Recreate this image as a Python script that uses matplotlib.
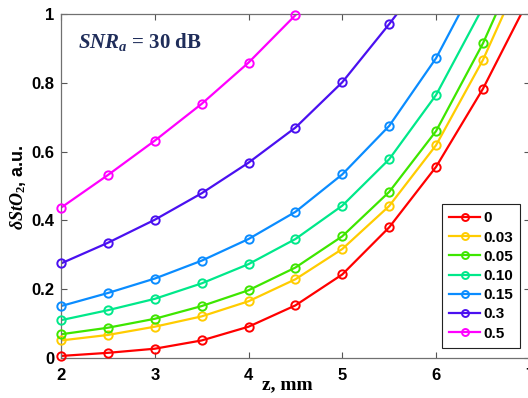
import matplotlib
matplotlib.use('Agg')
import matplotlib.pyplot as plt
from matplotlib.lines import Line2D

# depth, mm
z = [2, 2.5, 3, 3.5, 4, 4.5, 5, 5.5, 6, 6.5, 7]

# dStO2 for each noise level (last points run past the top of the axes)
d_0 = [0.006, 0.015, 0.027, 0.051, 0.091, 0.153, 0.243, 0.380, 0.556, 0.783, 1.05]
d_003 = [0.051, 0.067, 0.091, 0.121, 0.165, 0.229, 0.317, 0.442, 0.619, 0.867, 1.17]
d_005 = [0.069, 0.088, 0.114, 0.151, 0.197, 0.263, 0.354, 0.483, 0.660, 0.915, 1.22]
d_010 = [0.110, 0.139, 0.172, 0.217, 0.273, 0.346, 0.443, 0.578, 0.765, 1.02]
d_015 = [0.151, 0.189, 0.231, 0.283, 0.346, 0.425, 0.534, 0.675, 0.872, 1.13]
d_03 = [0.275, 0.335, 0.402, 0.479, 0.568, 0.670, 0.802, 0.971, 1.15]
d_05 = [0.437, 0.532, 0.632, 0.739, 0.859, 0.997, 1.15]

labels = ['0', '0.03', '0.05', '0.10', '0.15', '0.3', '0.5']
series = [d_0, d_003, d_005, d_010, d_015, d_03, d_05]
colors = ['#ff0000', '#ffcc00', '#3ee600', '#00e88a', '#0a8cff', '#4a10f0', '#ff00ff']

plt.rcParams['font.family'] = 'Liberation Sans'
plt.rcParams['font.weight'] = 'bold'
plt.rcParams['mathtext.fontset'] = 'custom'
plt.rcParams['mathtext.it'] = 'Liberation Serif:italic:bold'
plt.rcParams['mathtext.rm'] = 'Liberation Serif:bold'

fig = plt.figure(figsize=(5.28, 3.98), dpi=100)
ax = fig.add_axes([0.1155, 0.1005, 0.888, 0.864])

handles = []
for vals, c, lab in zip(series, colors, labels):
    zz = z[:len(vals)]
    # line is clipped at the axes, markers are not (like matlab)
    ax.plot(zz, vals, '-', color=c, lw=1.6)
    keep = [i for i, v in enumerate(vals) if v <= 1]
    ax.plot([zz[i] for i in keep], [vals[i] for i in keep], 'o', color=c,
            mfc='none', mew=1.4, ms=6, clip_on=False, zorder=3)
    handles.append(Line2D([], [], color=c, lw=1.6, marker='o', mfc='none',
                          mew=1.4, ms=5, label=lab))

ax.set_xlim(2, 7)
ax.set_ylim(0, 1)
ax.set_xticks([2, 3, 4, 5, 6, 7])
ax.set_yticks([0, 0.2, 0.4, 0.6, 0.8, 1])
ax.set_yticklabels(['0', '0.2', '0.4', '0.6', '0.8', '1'])
ax.tick_params(direction='in', length=4, width=0.8, color='#555555',
               labelsize=12, top=True, right=True)
ax.tick_params(axis='x', pad=7)
ax.tick_params(axis='y', pad=5)
for sp in ax.spines.values():
    sp.set_color('#707070')
    sp.set_linewidth(0.9)

ax.set_xlabel('z, mm', fontfamily='Liberation Serif', fontsize=14,
              fontweight='bold')
ax.xaxis.set_label_coords(0.482, -0.078)
ax.xaxis.label.set_va('center')
ax.set_ylabel(r'$\delta StO_2$, a.u.', fontsize=13, fontweight='bold')
ax.yaxis.set_label_coords(-0.092, 0.497)
ax.yaxis.label.set_va('center')

ax.text(0.036, 0.901, r'$SNR_a$ = 30 dB', transform=ax.transAxes,
        color='#1f2d5a', fontfamily='Liberation Serif', fontsize=15,
        fontweight='bold', va='baseline')

leg = ax.legend(handles=handles, loc='lower right',
                bbox_to_anchor=(0.979, 0.030), borderaxespad=0,
                fancybox=False, edgecolor='#222222', framealpha=1,
                fontsize=11, handlelength=2.0, handletextpad=0.2,
                labelspacing=0.34, borderpad=0.47)
leg.get_frame().set_linewidth(0.8)

fig.savefig('out.png', dpi=100)
